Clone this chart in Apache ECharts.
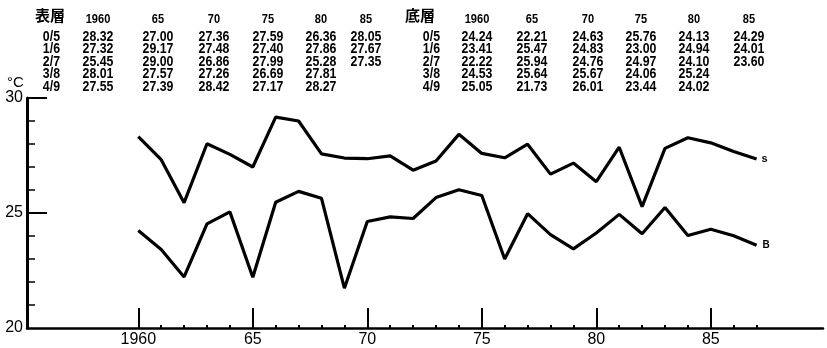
<!DOCTYPE html>
<html>
<head>
<meta charset="utf-8">
<script src="https://cdn.jsdelivr.net/npm/echarts@6/dist/echarts.min.js"></script>
<style>
html,body{margin:0;padding:0;background:#fff;}
#chart{width:827px;height:348px;}
</style>
</head>
<body>
<div id="chart"></div>
<script>
// ---- data ----
const years = [1960,1961,1962,1963,1964,1965,1966,1967,1968,1969,1970,1971,1972,1973,1974,1975,1976,1977,1978,1979,1980,1981,1982,1983,1984,1985,1986,1987];
const surface = [28.32,27.32,25.45,28.01,27.55,27.00,29.17,29.00,27.57,27.39,27.36,27.48,26.86,27.26,28.42,27.59,27.40,27.99,26.69,27.17,26.36,27.86,25.28,27.81,28.27,28.05,27.67,27.35];
const bottom = [24.24,23.41,22.22,24.53,25.05,22.21,25.47,25.94,25.64,21.73,24.63,24.83,24.76,25.67,26.01,25.76,23.00,24.97,24.06,23.44,24.13,24.94,24.10,25.24,24.02,24.29,24.01,23.60];
const tableHeaders = ['1960','65','70','75','80','85'];
const rowLabels = ['0/5','1/6','2/7','3/8','4/9'];
const majorYears = [1960,1965,1970,1975,1980,1985];
const minorYears = [1961,1962,1963,1964,1966,1967,1968,1969,1971,1972,1973,1974,1976,1977,1978,1979,1981,1982,1983,1984,1986,1987];
const yLabels = [20,25,30];
const yMajorTicks = [25,30];
const yMinorTicks = [21,22,23,24,26,27,28,29];

// ---- table layout ----
const FONT = '"Liberation Sans", Arial, sans-serif';
const CJK = '"Noto Sans CJK JP", "Noto Sans CJK SC", sans-serif';
const rowY = [37, 49.5, 62, 74.5, 87];
const headerY = 19;
function buildTable(title, series, titleX, rowLabelRight, colCenters) {
  const els = [];
  els.push({type:'text', x:titleX, y:15, style:{text:title, font:'bold 15px ' + CJK, fill:'#000', align:'left', verticalAlign:'middle'}});
  tableHeaders.forEach((h, c) => {
    els.push({type:'text', x:colCenters[c], y:headerY, scaleX:0.85, style:{text:h, font:'bold 13px ' + FONT, fill:'#000', align:'center', verticalAlign:'middle'}});
  });
  rowLabels.forEach((lab, r) => {
    els.push({type:'text', x:rowLabelRight, y:rowY[r], scaleX:0.88, style:{text:lab, font:'bold 14px ' + FONT, fill:'#000', align:'right', verticalAlign:'middle'}});
    tableHeaders.forEach((h, c) => {
      const idx = c * 5 + r;
      if (idx < series.length) {
        els.push({type:'text', x:colCenters[c], y:rowY[r], scaleX:0.88, style:{text:series[idx].toFixed(2), font:'bold 14px ' + FONT, fill:'#000', align:'center', verticalAlign:'middle'}});
      }
    });
  });
  return els;
}
const graphics = []
  .concat(buildTable('表層', surface, 35, 60, [98,158,214,268,321,366]))
  .concat(buildTable('底層', bottom, 405, 440, [477,532,588,641,694,749]));
graphics.push({type:'text', x:7, y:83, style:{text:'°C', font:'15px ' + FONT, fill:'#000', align:'left', verticalAlign:'middle'}});

const xMin = 1955.14, xMax = 1989.9;
const chart = echarts.init(document.getElementById('chart'), null, {renderer:'canvas'});
chart.setOption({
  animation:false,
  backgroundColor:'#fff',
  grid:{left:27, right:4, top:98, bottom:19.5, containLabel:false},
  xAxis:[
    {type:'value', min:xMin, max:xMax, position:'bottom',
     axisLine:{show:true, onZero:false, lineStyle:{color:'#000', width:2.5}},
     axisTick:{show:true, inside:true, length:20, customValues:majorYears, lineStyle:{color:'#000', width:2}},
     axisLabel:{show:true, customValues:majorYears, margin:4, color:'#000', fontSize:16, fontFamily:FONT,
       formatter:function(v){ v = Math.round(v); return v === 1960 ? '1960' : String(v % 100); }},
     splitLine:{show:false}},
    {type:'value', min:xMin, max:xMax, position:'bottom',
     axisLine:{show:false},
     axisTick:{show:true, inside:true, length:3, customValues:minorYears, lineStyle:{color:'#000', width:2}},
     axisLabel:{show:false},
     splitLine:{show:false}}
  ],
  yAxis:[
    {type:'value', min:20, max:30, position:'left',
     axisLine:{show:true, onZero:false, lineStyle:{color:'#000', width:3}},
     axisTick:{show:true, inside:true, length:20, customValues:yMajorTicks, lineStyle:{color:'#000', width:2}},
     axisLabel:{show:true, customValues:yLabels, margin:4, color:'#000', fontSize:16, fontFamily:FONT},
     splitLine:{show:false}},
    {type:'value', min:20, max:30, position:'left',
     axisLine:{show:false},
     axisTick:{show:true, inside:true, length:8, customValues:yMinorTicks, lineStyle:{color:'#000', width:1.5}},
     axisLabel:{show:false},
     splitLine:{show:false}}
  ],
  series:[
    {name:'s', type:'line', xAxisIndex:0, yAxisIndex:0, data:years.map((y,i)=>[y, surface[i]]),
     showSymbol:false, symbol:'none', lineStyle:{color:'#000', width:3.2}, itemStyle:{color:'#000'},
     endLabel:{show:true, formatter:'s', distance:5, color:'#000', fontSize:11, fontWeight:'bold', fontFamily:FONT}},
    {name:'B', type:'line', xAxisIndex:0, yAxisIndex:0, data:years.map((y,i)=>[y, bottom[i]]),
     showSymbol:false, symbol:'none', lineStyle:{color:'#000', width:3.2}, itemStyle:{color:'#000'},
     endLabel:{show:true, formatter:'B', distance:6, color:'#000', fontSize:10, fontWeight:'bold', fontFamily:FONT}}
  ],
  graphic:graphics
});
</script>
</body>
</html>
